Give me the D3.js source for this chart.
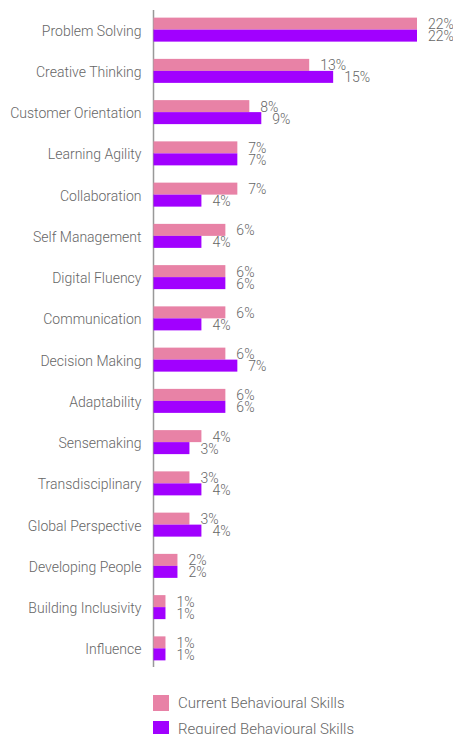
<!DOCTYPE html>
<html>
<head>
<meta charset="utf-8">
<script src="https://cdn.jsdelivr.net/npm/d3@7"></script>
<style>
  body { margin: 0; background: #fff; }
  #chart { width: 453px; height: 734px; }
  text { font-family: Roboto, "Liberation Sans", sans-serif; fill: #666; }
</style>
</head>
<body>
<div id="chart"></div>
<script>
const categories = ["Problem Solving", "Creative Thinking", "Customer Orientation", "Learning Agility",
  "Collaboration", "Self Management", "Digital Fluency", "Communication", "Decision Making",
  "Adaptability", "Sensemaking", "Transdisciplinary", "Global Perspective", "Developing People",
  "Building Inclusivity", "Influence"];
const current = [22, 13, 8, 7, 7, 6, 6, 6, 6, 6, 4, 3, 3, 2, 1, 1];
const required = [22, 15, 9, 7, 4, 4, 6, 4, 7, 6, 3, 4, 4, 2, 1, 1];
const seriesNames = ["Current Behavioural Skills", "Required Behavioural Skills"];
const colors = ["#e882a6", "#a100ff"];

const container = d3.select("#chart");
const width = 453, height = 734;

const svg = container.append("svg")
  .attr("width", width)
  .attr("height", height);

// scales

const x = d3.scaleLinear().domain([0, 22]).range([153.5, 417]);
const y = d3.scaleBand().domain(categories).range([9, 669]);
const barH = 12;

// axis line + category labels

const yAxis = svg.append("g")
  .attr("transform", "translate(153.5,0)")
  .call(d3.axisLeft(y).tickSize(0).tickPadding(12));
yAxis.select(".domain").attr("stroke", "#999").attr("stroke-width", 1.5)
  .attr("d", "M0,10V667");
yAxis.selectAll("text")
  .attr("font-size", 14)
  .attr("fill", "#666")
  .attr("font-family", "Roboto, sans-serif")
  .attr("font-weight", 300)
  .attr("dy", "0.42em");

// bars

const rows = categories.map((c, i) => ({ name: c, vals: [current[i], required[i]] }));

const g = svg.append("g")
  .selectAll("g")
  .data(rows)
  .join("g")
  .attr("transform", d => "translate(0," + (y(d.name) + y.bandwidth() / 2 - barH) + ")");

g.selectAll("rect")
  .data(d => d.vals)
  .join("rect")
  .attr("x", x(0))
  .attr("y", (d, i) => i * barH)
  .attr("width", d => x(d) - x(0))
  .attr("height", barH)
  .attr("fill", (d, i) => colors[i]);

g.selectAll("text")
  .data(d => d.vals)
  .join("text")
  .attr("x", d => x(d) + 11)
  .attr("y", (d, i) => i * barH + barH - 0.5)
  .attr("font-size", 14)
  .attr("font-weight", 300)
  .text(d => d + "%");

// legend

const legend = svg.append("g")
  .selectAll("g")
  .data(seriesNames)
  .join("g")
  .attr("transform", (d, i) => "translate(153," + (695 + i * 26) + ")");

legend.append("rect")
  .attr("width", 16)
  .attr("height", 16)
  .attr("fill", (d, i) => colors[i]);

legend.append("text")
  .attr("x", 25)
  .attr("y", 13)
  .attr("font-size", 15)
  .attr("font-weight", 300)
  .text(d => d);
</script>
</body>
</html>
